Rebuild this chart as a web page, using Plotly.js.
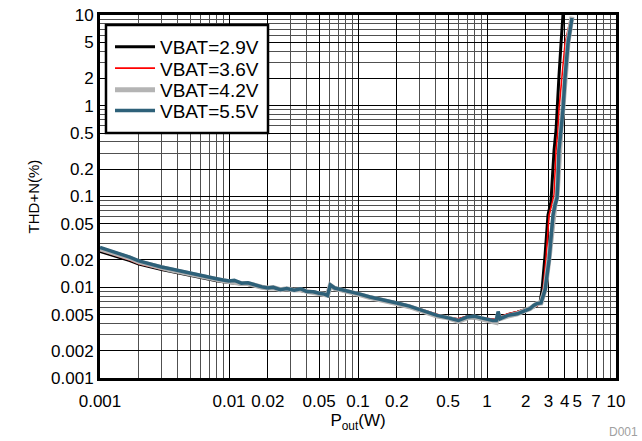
<!DOCTYPE html>
<html>
<head>
<meta charset="utf-8">
<script src="https://cdn.plot.ly/plotly-3.0.1.min.js"></script>
<style>html,body{margin:0;padding:0;background:#fff;}#chart{width:642px;height:441px;}</style>
</head>
<body>
<div id="chart"></div>
<script>
// ---- Data (Pout in W, THD+N in %) ----
var seriesNames = ["VBAT=2.9V", "VBAT=3.6V", "VBAT=4.2V", "VBAT=5.5V"];

var pout29 = [0.001,0.0013,0.0017,0.002,0.0025,0.003,0.0035,0.004,0.005,0.006,
              0.007,0.008,0.009,0.010,0.012,0.014,0.016,0.018,0.02,0.022,
              0.025,0.028,0.032,0.036,0.04,0.045,0.05,0.055,0.058,0.061,
              0.066,0.075,0.087,0.1,0.124,0.15,0.2,0.25,0.3,0.35,
              0.41,0.5,0.6,0.7,0.8,0.9,1.0,1.1,1.2,1.3,
              1.45,1.72,2.0,2.2,2.40,2.58,2.67,2.82,2.97,3.13,
              3.31,3.43,3.49,3.61,3.75,3.88];
var thd29  = [0.0248,0.0222,0.0197,0.0180,0.0166,0.0157,0.0150,0.0144,0.0134,0.0127,
              0.0122,0.0118,0.0115,0.0112,0.0109,0.0107,0.0103,0.0100,0.0099,0.0098,
              0.0095,0.0097,0.0094,0.0093,0.0090,0.0089,0.0086,0.0084,0.0082,0.0103,
              0.0096,0.0092,0.0088,0.0084,0.0077,0.0073,0.0067,0.0062,0.0057,0.0053,
              0.0049,0.0046,0.0044,0.0047,0.0046,0.0045,0.0044,0.0043,0.0044,0.0047,
              0.0050,0.0053,0.0057,0.0060,0.0062,0.0069,0.0093,0.0227,0.0625,0.0869,
              0.325,0.541,0.898,2.07,4.91,10];

var pout36 = [0.001,0.0013,0.0017,0.002,0.0025,0.003,0.0035,0.004,0.005,0.006,
              0.007,0.008,0.009,0.010,0.012,0.014,0.016,0.018,0.02,0.022,
              0.025,0.028,0.032,0.036,0.04,0.045,0.05,0.055,0.058,0.061,
              0.066,0.075,0.087,0.1,0.124,0.15,0.2,0.25,0.3,0.35,
              0.41,0.5,0.6,0.7,0.8,0.9,1.0,1.1,1.2,1.3,
              1.45,1.72,2.0,2.2,2.44,2.62,2.72,2.87,3.03,3.19,
              3.31,3.43,3.55,3.61,3.81,4.03,4.40];
var thd36  = [0.0255,0.0228,0.0200,0.0182,0.0168,0.0158,0.0152,0.0146,0.0135,0.0128,
              0.0123,0.0119,0.0115,0.0112,0.0110,0.0108,0.0104,0.0100,0.0101,0.0099,
              0.0096,0.0098,0.0095,0.0093,0.0091,0.0090,0.0087,0.0085,0.0083,0.0104,
              0.0097,0.0093,0.0088,0.0084,0.0077,0.0073,0.0068,0.0063,0.0058,0.0054,
              0.0050,0.0046,0.0045,0.0048,0.0047,0.0046,0.0045,0.0044,0.0044,0.0048,
              0.0051,0.0054,0.0058,0.0060,0.0062,0.0067,0.0093,0.021,0.0625,0.0827,
              0.104,0.325,0.541,0.898,2.07,4.91,8.6];

var pout42 = [0.001,0.0013,0.0017,0.002,0.0025,0.003,0.0035,0.004,0.005,0.006,
              0.007,0.008,0.009,0.010,0.011,0.0125,0.014,0.016,0.018,0.02,
              0.022,0.025,0.028,0.032,0.036,0.04,0.045,0.05,0.055,0.058,
              0.061,0.066,0.075,0.087,0.1,0.124,0.15,0.2,0.25,0.3,
              0.35,0.41,0.5,0.6,0.7,0.8,0.9,1.0,1.11,1.18,
              1.22,1.26,1.45,1.72,2.0,2.15,2.3,2.44,2.62,2.82,
              3.03,3.25,3.37,3.49,3.55,3.61,3.75,3.88,4.03,4.25,4.56];
var thd42  = [0.0265,0.0238,0.0210,0.0190,0.0174,0.0163,0.0156,0.0150,0.0139,0.0132,
              0.0126,0.0122,0.0118,0.0115,0.0116,0.0110,0.0110,0.0104,0.0100,0.0098,
              0.0099,0.0094,0.0096,0.0093,0.0094,0.0090,0.0088,0.0086,0.0084,0.0082,
              0.0105,0.0097,0.0093,0.0089,0.0084,0.0077,0.0073,0.0066,0.0061,0.0056,
              0.0052,0.0048,0.0046,0.0042,0.0046,0.0047,0.0045,0.0043,0.0041,0.0041,
              0.0050,0.0045,0.0048,0.0051,0.0056,0.0058,0.0062,0.0066,0.0067,0.0095,
              0.0210,0.0650,0.0830,0.100,0.160,0.340,0.570,0.950,2.20,5.10,9.6];

var pout55 = [0.001,0.0013,0.0017,0.002,0.0025,0.003,0.0035,0.004,0.005,0.006,
              0.007,0.008,0.009,0.010,0.011,0.0125,0.014,0.016,0.018,0.02,
              0.022,0.025,0.028,0.032,0.036,0.04,0.045,0.05,0.055,0.058,
              0.061,0.066,0.075,0.087,0.1,0.124,0.15,0.2,0.25,0.3,
              0.35,0.41,0.5,0.6,0.7,0.8,0.9,1.0,1.11,1.18,
              1.22,1.26,1.45,1.72,2.0,2.15,2.3,2.44,2.62,2.82,
              3.03,3.25,3.37,3.49,3.55,3.61,3.75,3.88,4.03,4.25,4.56];
var thd55  = [0.0275,0.0245,0.0215,0.0195,0.0178,0.0167,0.0160,0.0153,0.0142,0.0135,
              0.0128,0.0124,0.0120,0.0117,0.0119,0.0111,0.0112,0.0105,0.0101,0.0098,
              0.0100,0.0094,0.0097,0.0093,0.0096,0.0090,0.0089,0.0086,0.0084,0.0081,
              0.0106,0.0098,0.0094,0.0090,0.0085,0.0078,0.0074,0.0067,0.0062,0.0057,
              0.0053,0.0049,0.0046,0.0043,0.0047,0.0048,0.0046,0.0044,0.0043,0.0043,
              0.0054,0.0045,0.0049,0.0051,0.0056,0.0058,0.0063,0.0066,0.0067,0.0093,
              0.0200,0.0625,0.0806,0.0962,0.152,0.325,0.541,0.898,2.07,4.91,9.27];

// ---- Axis ticks ----
var xTickVals = [0.001,0.01,0.02,0.05,0.1,0.2,0.5,1,2,3,4,5,7,10];
var xTickText = ["0.001","0.01","0.02","0.05","0.1","0.2","0.5","1","2","3","4","5","7","10"];
var yTickVals = [0.001,0.002,0.005,0.01,0.02,0.05,0.1,0.2,0.5,1,2,5,10];
var yTickText = ["0.001","0.002","0.005","0.01","0.02","0.05","0.1","0.2","0.5","1","2","5","10"];
var minorGridVals = [0.001,0.002,0.003,0.004,0.005,0.006,0.007,0.008,0.009,
                     0.01,0.02,0.03,0.04,0.05,0.06,0.07,0.08,0.09,
                     0.1,0.2,0.3,0.4,0.5,0.6,0.7,0.8,0.9,
                     1,2,3,4,5,6,7,8,9,10];

var FONT = "Arial, 'Liberation Sans', sans-serif";
var legendIds = ["legend", "legend2", "legend3", "legend4"];
var legendRowY = [0.9118, 0.8532, 0.7934, 0.7364];

var traces = [
  {x: pout29, y: thd29, name: seriesNames[0], mode: "lines", legend: legendIds[0], line: {color: "#000000", width: 3}},
  {x: pout36, y: thd36, name: seriesNames[1], mode: "lines", legend: legendIds[1], line: {color: "#ff0000", width: 1.6}},
  {x: pout42, y: thd42, name: seriesNames[2], mode: "lines", legend: legendIds[2], line: {color: "#b4b4b4", width: 5}},
  {x: pout55, y: thd55, name: seriesNames[3], mode: "lines", legend: legendIds[3], line: {color: "#2e6179", width: 3.5}}
];

var axisCommon = {
  type: "log",
  showline: true, linecolor: "#000", linewidth: 3, mirror: true,
  ticks: "", showgrid: true, gridcolor: "#000", gridwidth: 1,
  zeroline: false,
  tickfont: {family: FONT, size: 17, color: "#000"},
  tickmode: "array",
  minor: {tickmode: "array", tickvals: minorGridVals, showgrid: true, gridcolor: "#505050", gridwidth: 1, ticks: ""}
};

var layout = {
  width: 642, height: 441,
  margin: {l: 100, r: 26, t: 15, b: 63, pad: 0},
  paper_bgcolor: "#fff", plot_bgcolor: "#fff",
  font: {family: FONT, color: "#000"},
  showlegend: true,
  xaxis: Object.assign({}, axisCommon, {
    range: [-3, 1],
    tickvals: xTickVals, ticktext: xTickText,
    ticklabelstandoff: 6,
    title: {text: "P<sub>out</sub>(W)", font: {family: FONT, size: 17, color: "#000"}, standoff: 4}
  }),
  yaxis: Object.assign({}, axisCommon, {
    range: [-3, 1],
    tickvals: yTickVals, ticktext: yTickText,
    title: {text: "THD+N(%)", font: {family: FONT, size: 15, color: "#000"}, standoff: 8}
  }),
  shapes: [{
    type: "rect", xref: "paper", yref: "paper", layer: "above",
    x0: 0.0116, x1: 0.3256, y0: 0.6749, y1: 0.9725,
    fillcolor: "#fff", line: {color: "#000", width: 2.5}
  }],
  annotations: [{
    text: "D001", xref: "paper", yref: "paper", x: 1.046, y: -0.149,
    xanchor: "right", yanchor: "middle", showarrow: false,
    font: {family: FONT, size: 12, color: "#a0a0a0"}
  }]
};

legendIds.forEach(function (id, i) {
  layout[id] = {
    x: 0.0194, y: legendRowY[i], xanchor: "left", yanchor: "middle",
    bgcolor: "rgba(0,0,0,0)", borderwidth: 0,
    font: {family: FONT, size: 19, color: "#000"},
    itemwidth: 40
  };
});

Plotly.newPlot("chart", traces, layout, {displayModeBar: false, staticPlot: true});
</script>
</body>
</html>
